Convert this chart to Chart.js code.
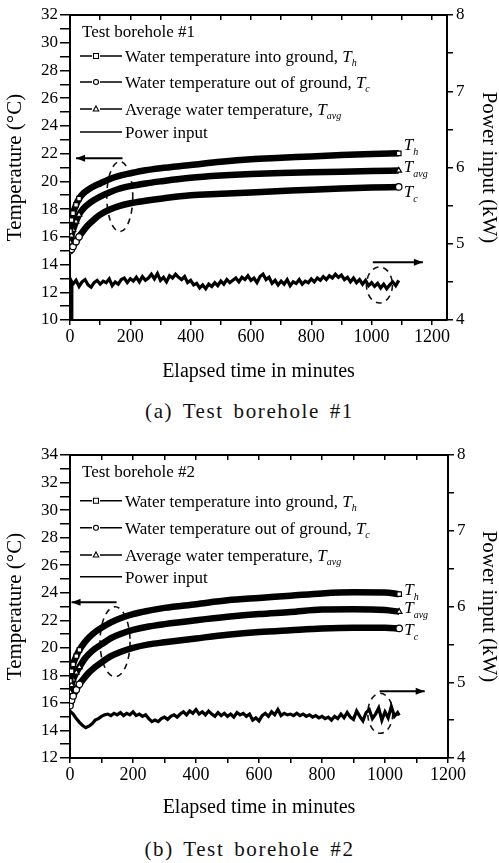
<!DOCTYPE html>
<html><head><meta charset="utf-8">
<script src="https://cdn.jsdelivr.net/npm/chart.js@4/dist/chart.umd.min.js"></script>
<style>
html,body{margin:0;padding:0;background:#fff;width:499px;height:863px;overflow:hidden;position:relative}
canvas{position:absolute;left:0}
#c1{top:0}
#c2{top:440px}
.cap{position:absolute;left:0;width:499px;text-align:center;font-family:'Liberation Serif',serif;font-size:21px;letter-spacing:1.6px;word-spacing:3px;color:#111;line-height:24px}
</style></head><body>
<canvas id="c1" width="499" height="390"></canvas>
<canvas id="c2" width="499" height="390"></canvas>
<div class="cap" style="top:399px">(a) Test borehole #1</div>
<div class="cap" style="top:837px">(b) Test borehole #2</div>
<script>
// ---------- data: test borehole #1 ----------
const time1 = [0, 5, 10, 20, 30, 45, 60, 80, 100, 130, 160, 200, 250, 300, 400, 500, 600, 700, 800, 900, 1000, 1090];
const th1   = [16.4, 17.2, 17.7, 18.3, 18.75, 19.15, 19.4, 19.65, 19.85, 20.15, 20.38, 20.58, 20.8, 20.95, 21.18, 21.42, 21.6, 21.7, 21.8, 21.9, 21.98, 22.02];
const tavg1 = [15.6, 16.1, 16.5, 17.1, 17.6, 18.05, 18.35, 18.65, 18.9, 19.2, 19.45, 19.66, 19.85, 20.0, 20.26, 20.42, 20.53, 20.6, 20.65, 20.7, 20.75, 20.78];
const tc1   = [15.0, 15.1, 15.3, 15.65, 16.0, 16.45, 16.85, 17.25, 17.6, 17.95, 18.2, 18.42, 18.6, 18.75, 19.0, 19.1, 19.2, 19.3, 19.4, 19.48, 19.55, 19.6];
const ptime1 = [0,5,6,10,20,30,40,50,60,70,80,90,100,110,120,130,140,150,160,170,180,190,200,210,220,230,240,250,260,270,280,290,300,310,320,330,340,350,360,370,380,390,400,410,420,430,440,450,460,470,480,490,500,510,520,530,540,550,560,570,580,590,600,610,620,630,640,650,660,670,680,690,700,710,720,730,740,750,760,770,780,790,800,810,820,830,840,850,860,870,880,890,900,910,920,930,940,950,960,970,980,990,1000,1010,1020,1030,1040,1050,1060,1070,1080,1090];
const power1 = [4.0,4.0,4.50,4.47,4.52,4.44,4.50,4.53,4.46,4.43,4.49,4.52,4.47,
  4.51,4.49,4.54,4.45,4.50,4.47,4.53,4.55,4.49,4.54,
  4.51,4.56,4.50,4.57,4.52,4.55,4.60,4.54,4.61,4.52,
  4.56,4.50,4.58,4.55,4.60,4.56,4.53,4.57,4.49,4.52,
  4.46,4.48,4.42,4.46,4.41,4.47,4.44,4.49,4.45,4.51,
  4.47,4.53,4.49,4.52,4.55,4.50,4.56,4.53,4.58,4.52,
  4.55,4.49,4.57,4.60,4.53,4.56,4.48,4.52,4.46,4.51,
  4.47,4.53,4.45,4.50,4.48,4.53,4.47,4.51,4.49,4.54,
  4.50,4.55,4.52,4.57,4.53,4.58,4.55,4.60,4.56,4.59,
  4.53,4.56,4.50,4.55,4.49,4.53,4.47,4.52,4.45,4.49,
  4.44,4.48,4.42,4.47,4.41,4.46,4.50,4.45,4.52];

// ---------- data: test borehole #2 ----------
const time2 = [0, 5, 10, 20, 30, 45, 60, 80, 100, 130, 160, 200, 250, 300, 400, 500, 600, 700, 800, 900, 1000, 1045];
const th2   = [17.6, 18.3, 18.8, 19.4, 19.85, 20.35, 20.75, 21.15, 21.45, 21.85, 22.15, 22.45, 22.7, 22.9, 23.17, 23.45, 23.62, 23.78, 23.95, 24.03, 24.02, 23.9];
const tavg2 = [16.8, 17.3, 17.7, 18.2, 18.6, 19.15, 19.55, 19.95, 20.25, 20.7, 21.0, 21.3, 21.55, 21.72, 22.0, 22.25, 22.45, 22.6, 22.78, 22.8, 22.74, 22.62];
const tc2   = [15.8, 16.2, 16.5, 16.95, 17.35, 17.8, 18.2, 18.6, 18.95, 19.4, 19.7, 20.0, 20.25, 20.4, 20.68, 20.95, 21.15, 21.28, 21.4, 21.45, 21.45, 21.41];
const ptime2 = [0,10,20,30,40,50,60,70,80,90,100,110,120,130,140,150,160,170,180,190,200,210,220,230,240,250,260,270,280,290,300,310,320,330,340,350,360,370,380,390,400,410,420,430,440,450,460,470,480,490,500,510,520,530,540,550,560,570,580,590,600,610,620,630,640,650,660,670,680,690,700,710,720,730,740,750,760,770,780,790,800,810,820,830,840,850,860,870,880,890,900,910,920,930,940,950,960,970,980,990,1000,1010,1020,1030,1040,1045];
const power2 = [4.62,4.58,4.52,4.47,4.43,4.40,4.42,4.45,4.50,4.52,
  4.55,4.57,4.58,4.56,4.59,4.57,4.60,4.56,4.59,4.57,
  4.61,4.56,4.58,4.55,4.57,4.52,4.48,4.50,4.48,4.52,
  4.54,4.51,4.55,4.57,4.54,4.58,4.61,4.57,4.62,4.59,
  4.64,4.58,4.61,4.57,4.62,4.58,4.55,4.60,4.56,4.59,
  4.55,4.58,4.54,4.60,4.57,4.59,4.55,4.58,4.50,4.53,
  4.49,4.56,4.59,4.55,4.61,4.57,4.64,4.56,4.59,4.57,
  4.58,4.56,4.59,4.56,4.58,4.55,4.57,4.54,4.56,4.53,
  4.55,4.52,4.54,4.50,4.55,4.52,4.58,4.53,4.60,4.54,
  4.51,4.62,4.55,4.49,4.60,4.64,4.52,4.58,4.66,4.50,
  4.61,4.53,4.68,4.55,4.60,4.56];

// ---------- text ----------
const legendTitles = ['Test borehole #1', 'Test borehole #2'];
const legendTexts = ['Water temperature into ground, ', 'Water temperature out of ground, ', 'Average water temperature, ', 'Power input'];
const legendSubs = ['h', 'c', 'avg', null];
const seriesSubs = ['h', 'avg', 'c'];
const xTitle = 'Elapsed time in minutes';
const yTitle = 'Temperature (\u00B0C)';
const y2Title = 'Power input (kW)';

const F = "'Liberation Serif', 'Times New Roman', serif";

function rich(ctx, x, y, parts) {
  parts.forEach(p => {
    ctx.font = p.f;
    ctx.fillText(p.t, x, y + (p.dy || 0));
    x += ctx.measureText(p.t).width + (p.gap || 0);
  });
  return x;
}

function drawMarker(ctx, style, x, y, r) {
  ctx.save();
  ctx.fillStyle = '#fff'; ctx.strokeStyle = '#000'; ctx.lineWidth = 1.1; ctx.setLineDash([]);
  ctx.beginPath();
  if (style === 'rect') ctx.rect(x - r, y - r, 2 * r, 2 * r);
  else if (style === 'circle') ctx.arc(x, y, r, 0, Math.PI * 2);
  else { ctx.moveTo(x, y - r * 1.2); ctx.lineTo(x + r * 1.1, y + r * 0.8); ctx.lineTo(x - r * 1.1, y + r * 0.8); ctx.closePath(); }
  ctx.fill(); ctx.stroke();
  ctx.restore();
}

const overlay = {
  id: 'overlay',
  beforeDatasetsDraw(chart, args, o) {
    const ctx = chart.ctx, xs = chart.scales.x;
    ctx.save();
    ctx.strokeStyle = '#111'; ctx.lineWidth = 1.6; ctx.setLineDash([6, 5]);
    o.ellipses.forEach(e => {
      const sc = chart.scales[e.axis];
      ctx.beginPath();
      ctx.ellipse(xs.getPixelForValue(e.x), sc.getPixelForValue(e.y), e.rx, e.ry, e.rot || 0, 0, 2 * Math.PI);
      ctx.stroke();
    });
    ctx.restore();
  },
  afterDatasetsDraw(chart, args, o) {
    const ctx = chart.ctx, xs = chart.scales.x, area = chart.chartArea;
    ctx.save();
    ctx.fillStyle = '#000'; ctx.strokeStyle = '#000';
    // arrows
    o.arrows.forEach(a => {
      const sc = chart.scales[a.axis];
      const x1 = xs.getPixelForValue(a.x1), x2 = xs.getPixelForValue(a.x2), y = sc.getPixelForValue(a.y);
      ctx.lineWidth = 2; ctx.setLineDash([]);
      ctx.beginPath(); ctx.moveTo(x1, y); ctx.lineTo(x2, y); ctx.stroke();
      const tip = a.dir < 0 ? x1 : x2, d = a.dir < 0 ? 1 : -1;
      ctx.beginPath(); ctx.moveTo(tip, y); ctx.lineTo(tip + d * 9, y - 3.5); ctx.lineTo(tip + d * 9, y + 3.5); ctx.closePath(); ctx.fill();
    });
    // legend
    ctx.textBaseline = 'alphabetic';
    const lx = area.left + 10;
    ctx.font = '17px ' + F;
    ctx.fillText(o.title, lx + 2, o.titleY);
    const styles = ['rect', 'circle', 'triangle'];
    o.entryY.forEach((cy, i) => {
      ctx.lineWidth = 1.6; ctx.setLineDash([]);
      if (i < 3) {
        ctx.beginPath(); ctx.moveTo(lx, cy); ctx.lineTo(lx + 12, cy); ctx.moveTo(lx + 20, cy); ctx.lineTo(lx + 42, cy); ctx.stroke();
        drawMarker(ctx, styles[i], lx + 16, cy, 2.5);
      } else {
        ctx.beginPath(); ctx.moveTo(lx, cy); ctx.lineTo(lx + 42, cy); ctx.stroke();
      }
      const parts = [{ t: legendTexts[i], f: '17px ' + F }];
      if (legendSubs[i]) {
        parts.push({ t: 'T', f: 'italic 17px ' + F });
        parts.push({ t: legendSubs[i], f: 'italic 10px ' + F, dy: 4 });
      }
      rich(ctx, lx + 45, cy + 6, parts);
    });
    // end labels
    for (let k = 0; k < 3; k++) {
      const pts = chart.getDatasetMeta(k).data;
      const p = pts[pts.length - 1];
      rich(ctx, p.x + 5, p.y + o.endDy[k], [
        { t: 'T', f: 'italic 17px ' + F, gap: 0 },
        { t: seriesSubs[k], f: 'italic 10px ' + F, dy: 5 }
      ]);
    }
    ctx.restore();
  }
};

function series(times, vals) { return times.map((t, i) => ({ x: t, y: vals[i] })); }

function build(id, o) {
  const n = o.time.length;
  const rad = o.time.map((t, i) => (i < 5 || i === n - 1) ? 3.2 : 0);
  const tempDs = (vals, style) => ({
    data: series(o.time, vals), yAxisID: 'y', borderColor: '#000', borderWidth: 6.5,
    pointStyle: style, pointRadius: rad, pointBackgroundColor: '#fff', pointBorderColor: '#000',
    pointBorderWidth: 1.2, cubicInterpolationMode: 'monotone', fill: false
  });
  const axisFont = { family: F, size: 17 };
  return new Chart(document.getElementById(id), {
    type: 'line',
    data: {
      datasets: [
        tempDs(o.th, 'rect'),
        tempDs(o.tavg, 'triangle'),
        tempDs(o.tc, 'circle'),
        { data: series(o.ptime, o.power), yAxisID: 'y2', borderColor: '#000', borderWidth: 3.2, pointRadius: 0, tension: 0, fill: false, borderJoinStyle: 'miter' }
      ]
    },
    plugins: [overlay],
    options: {
      responsive: false, animation: false, devicePixelRatio: 1,
      layout: { padding: 0 },
      plugins: { legend: { display: false }, tooltip: { enabled: false }, overlay: o.overlay },
      scales: {
        x: {
          type: 'linear', position: 'bottom', min: 0, max: o.xmax,
          afterFit: s => { s.height = o.xH; },
          ticks: { stepSize: 100, includeBounds: false, autoSkip: false, maxRotation: 0, padding: 1, color: '#000',
            font: { family: F, size: 18 }, callback: v => (v % 200 === 0 ? String(v) : '') },
          grid: { drawOnChartArea: false, tickLength: 5, color: '#000', lineWidth: 1.5 },
          border: { color: '#000', width: 2 },
          title: { display: true, text: xTitle, color: '#000', font: { family: F, size: 20, lineHeight: 1 }, padding: { top: 0, bottom: o.xTitlePad } }
        },
        x2: {
          type: 'linear', position: 'top', min: 0, max: o.xmax,
          afterFit: s => { s.height = 15; },
          ticks: { display: false, stepSize: 100, includeBounds: false },
          grid: { drawOnChartArea: false, tickLength: -5, color: '#000', lineWidth: 1.5 },
          border: { color: '#000', width: 2 }
        },
        y: {
          type: 'linear', position: 'left', min: o.ymin, max: o.ymax,
          afterFit: s => { s.width = 70; },
          ticks: { stepSize: 1, autoSkip: false, padding: 2, color: '#000', font: axisFont, callback: v => (v % 2 === 0 ? String(v) : '') },
          grid: { drawOnChartArea: false, tickLength: 10, color: '#000', lineWidth: 1.5 },
          border: { color: '#000', width: 2 },
          title: { display: true, text: yTitle, color: '#000', font: { family: F, size: 21, lineHeight: 1 }, padding: { top: 4.5, bottom: 0 } }
        },
        y2: {
          type: 'linear', position: 'right', min: 4, max: 8,
          afterFit: s => { s.width = o.rW; },
          ticks: { stepSize: 0.5, autoSkip: false, padding: 3, color: '#000', font: axisFont, callback: v => (Number.isInteger(v) ? String(v) : '') },
          grid: { drawOnChartArea: false, tickLength: 6, color: '#000', lineWidth: 1.5 },
          border: { color: '#000', width: 2 },
          title: { display: true, text: y2Title, color: '#000', font: { family: F, size: 21, lineHeight: 1 }, padding: { top: 0, bottom: 0 } }
        }
      }
    }
  });
}

build('c1', {
  time: time1, th: th1, tavg: tavg1, tc: tc1, ptime: ptime1, power: power1,
  xmax: 1250, ymin: 10, ymax: 32, xH: 70, xTitlePad: 8, rW: 52,
  overlay: {
    title: legendTitles[0], titleY: 37, entryY: [56, 82, 109, 132], endDy: [-3, 1.5, 10],
    ellipses: [{ x: 165, y: 18.9, rx: 13, ry: 35, axis: 'y' }, { x: 1026, y: 4.46, rx: 13, ry: 18, axis: 'y2' }],
    arrows: [{ x1: 20, x2: 174, y: 21.66, axis: 'y', dir: -1 }, { x1: 1004, x2: 1170, y: 4.756, axis: 'y2', dir: 1 }]
  }
});
build('c2', {
  time: time2, th: th2, tavg: tavg2, tc: tc2, ptime: ptime2, power: power2,
  xmax: 1200, ymin: 12, ymax: 34, xH: 72, xTitlePad: 12, rW: 51,
  overlay: {
    title: legendTitles[1], titleY: 36.7, entryY: [60.7, 87.7, 115, 136.7], endDy: [1, 1.5, 7],
    ellipses: [{ x: 143, y: 20.44, rx: 15, ry: 35, axis: 'y' }, { x: 985, y: 4.59, rx: 12.5, ry: 20, axis: 'y2' }],
    arrows: [{ x1: 5, x2: 148, y: 23.3, axis: 'y', dir: -1 }, { x1: 983, x2: 1126, y: 4.88, axis: 'y2', dir: 1 }]
  }
});
</script>
</body></html>
